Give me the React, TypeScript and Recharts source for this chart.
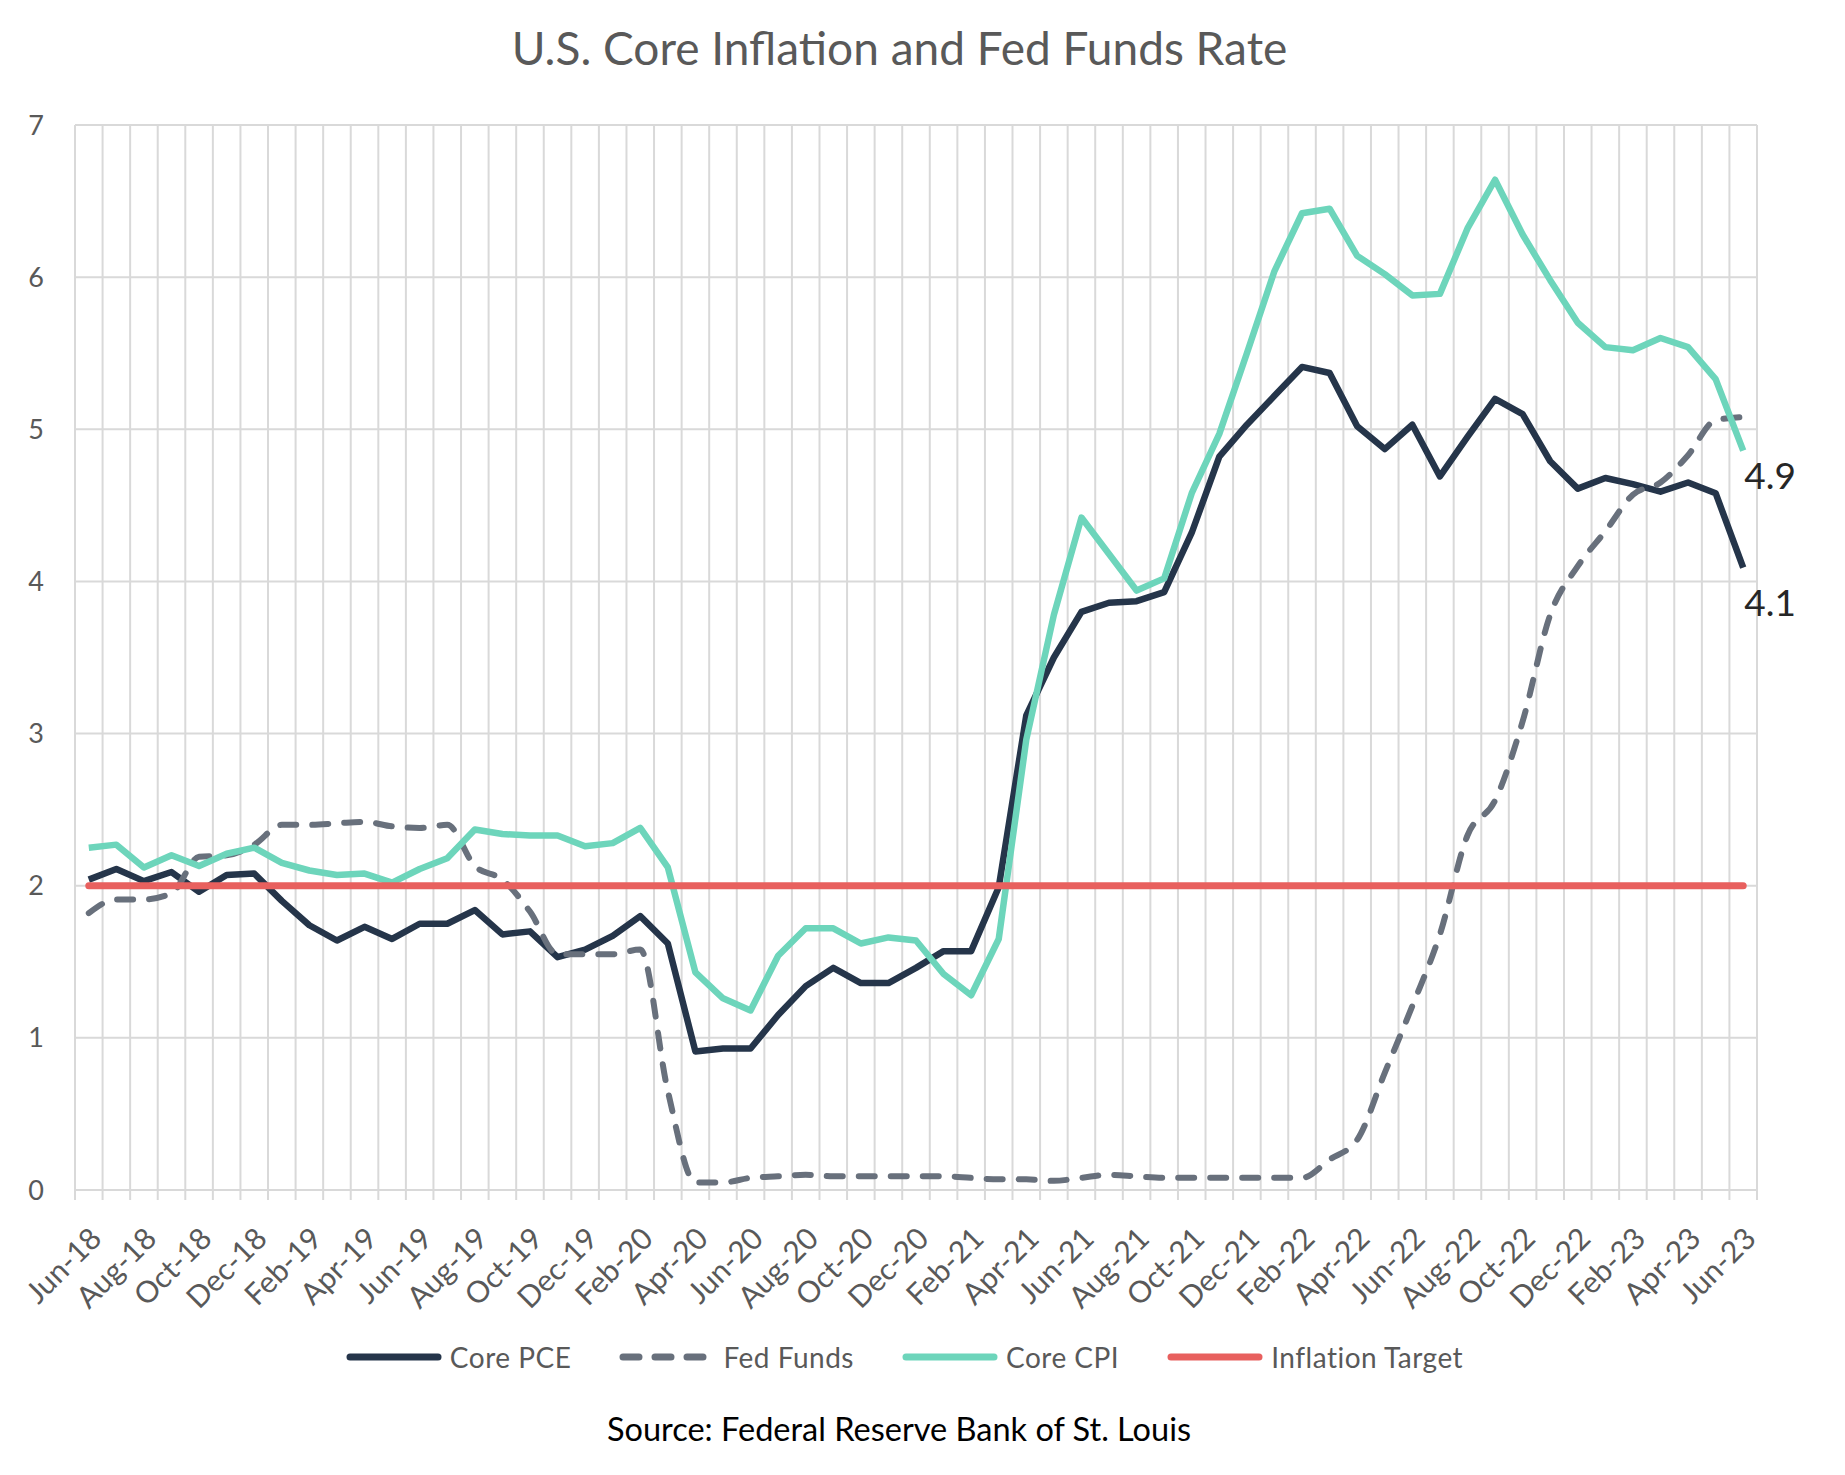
import React from 'react';
import { LineChart, Line, XAxis, YAxis, CartesianGrid, Legend, LabelList } from 'recharts';

const MONTHS = [
  'Jun-18', 'Jul-18', 'Aug-18', 'Sep-18', 'Oct-18', 'Nov-18', 'Dec-18',
  'Jan-19', 'Feb-19', 'Mar-19', 'Apr-19', 'May-19', 'Jun-19', 'Jul-19', 'Aug-19', 'Sep-19', 'Oct-19', 'Nov-19', 'Dec-19',
  'Jan-20', 'Feb-20', 'Mar-20', 'Apr-20', 'May-20', 'Jun-20', 'Jul-20', 'Aug-20', 'Sep-20', 'Oct-20', 'Nov-20', 'Dec-20',
  'Jan-21', 'Feb-21', 'Mar-21', 'Apr-21', 'May-21', 'Jun-21', 'Jul-21', 'Aug-21', 'Sep-21', 'Oct-21', 'Nov-21', 'Dec-21',
  'Jan-22', 'Feb-22', 'Mar-22', 'Apr-22', 'May-22', 'Jun-22', 'Jul-22', 'Aug-22', 'Sep-22', 'Oct-22', 'Nov-22', 'Dec-22',
  'Jan-23', 'Feb-23', 'Mar-23', 'Apr-23', 'May-23', 'Jun-23',
];

const CORE_PCE = [
  2.04, 2.11, 2.03, 2.09, 1.96, 2.07, 2.08,
  1.90, 1.74, 1.64, 1.73, 1.65, 1.75, 1.75, 1.84, 1.68, 1.70, 1.53, 1.58,
  1.67, 1.80, 1.62, 0.91, 0.93, 0.93, 1.15, 1.34, 1.46, 1.36, 1.36, 1.46,
  1.57, 1.57, 1.99, 3.12, 3.50, 3.80, 3.86, 3.87, 3.93, 4.32, 4.82, 5.03,
  5.22, 5.41, 5.37, 5.02, 4.87, 5.03, 4.69, 4.95, 5.20, 5.10, 4.79, 4.61,
  4.68, 4.64, 4.59, 4.65, 4.58, 4.09,
];

const FED_FUNDS = [
  1.82, 1.91, 1.91, 1.95, 2.19, 2.20, 2.27,
  2.40, 2.40, 2.41, 2.42, 2.39, 2.38, 2.40, 2.13, 2.04, 1.83, 1.55, 1.55,
  1.55, 1.58, 0.65, 0.05, 0.05, 0.08, 0.09, 0.10, 0.09, 0.09, 0.09, 0.09,
  0.09, 0.08, 0.07, 0.07, 0.06, 0.08, 0.10, 0.09, 0.08, 0.08, 0.08, 0.08,
  0.08, 0.08, 0.20, 0.33, 0.77, 1.21, 1.68, 2.33, 2.56, 3.08, 3.78, 4.10,
  4.33, 4.57, 4.65, 4.83, 5.06, 5.08,
];

const CORE_CPI = [
  2.25, 2.27, 2.12, 2.20, 2.13, 2.21, 2.25,
  2.15, 2.10, 2.07, 2.08, 2.02, 2.11, 2.18, 2.37, 2.34, 2.33, 2.33, 2.26,
  2.28, 2.38, 2.12, 1.43, 1.26, 1.18, 1.54, 1.72, 1.72, 1.62, 1.66, 1.64,
  1.42, 1.28, 1.65, 2.96, 3.78, 4.42, 4.18, 3.94, 4.02, 4.58, 4.97, 5.50,
  6.04, 6.42, 6.45, 6.14, 6.02, 5.88, 5.89, 6.32, 6.64, 6.28, 5.98, 5.70,
  5.54, 5.52, 5.60, 5.54, 5.33, 4.86,
];

const INFLATION_TARGET = 2;

const Y_TICKS = [0, 1, 2, 3, 4, 5, 6, 7];

const SERIES_ORDER = ['Core PCE', 'Fed Funds', 'Core CPI', 'Inflation Target'];

const COLORS = {
  pce: '#25354a',
  fed: '#68707c',
  cpi: '#6dd5bb',
  target: '#e8605e',
};

const FED_DASH = '16 16';

const data = MONTHS.map((month, i) => ({
  i,
  month,
  pce: CORE_PCE[i],
  fed: FED_FUNDS[i],
  cpi: CORE_CPI[i],
  target: INFLATION_TARGET,
}));

const LAST = MONTHS.length - 1;
// category boundaries (grid lines / tick marks) and label positions (every 2nd month)
const BOUNDS = MONTHS.map((_, i) => i - 0.5).concat([LAST + 0.5]);
const LABEL_POS = MONTHS.map((_, i) => i).filter((i) => i % 2 === 0);
const X_TICKS = [...BOUNDS, ...LABEL_POS].sort((a, b) => a - b);

const FONT = "Lato, 'Open Sans', 'DejaVu Sans', sans-serif";
const AXIS_COLOR = '#595959';

const XTick = (props: any) => {
  const { x, y, payload } = props;
  const v = payload.value as number;
  if (!Number.isInteger(v)) {
    return <line x1={x} x2={x} y1={y} y2={y + 10} stroke="#d9d9d9" strokeWidth={2} />;
  }
  const ax = x + 6;
  const ay = y + 42;
  return (
    <text
      x={ax}
      y={ay}
      transform={`rotate(-45 ${ax} ${ay})`}
      textAnchor="end"
      dominantBaseline="central"
      fill={AXIS_COLOR}
      fontSize={30}
      fontFamily={FONT}
    >
      {MONTHS[v]}
    </text>
  );
};

const endLabel = (dy: number) => (p: any) => {
  if (p.index !== LAST) return null;
  return (
    <text x={p.x + 1} y={p.y + dy} fontSize={37} fill="#262626" fontFamily={FONT} textAnchor="start">
      {Number(p.value).toFixed(1)}
    </text>
  );
};

const LegendContent = (props: any) => {
  const payload = (props.payload || []).slice().sort(
    (a: any, b: any) => SERIES_ORDER.indexOf(a.value) - SERIES_ORDER.indexOf(b.value)
  );
  return (
    <div style={{ display: 'flex', justifyContent: 'center', alignItems: 'center', gap: 48, height: 40 }}>
      {payload.map((entry: any) => {
        const dash = entry.payload && entry.payload.strokeDasharray;
        return (
          <div key={entry.value} style={{ display: 'flex', alignItems: 'center' }}>
            <svg width={96} height={12} style={{ display: 'block' }}>
              <line
                x1={4}
                x2={dash ? 86 : 92}
                y1={6}
                y2={6}
                stroke={entry.color}
                strokeWidth={7}
                strokeLinecap="round"
                strokeDasharray={dash}
              />
            </svg>
            <span
              style={{
                marginLeft: 8,
                fontSize: 28,
                color: AXIS_COLOR,
                fontFamily: FONT,
                lineHeight: '40px',
                whiteSpace: 'nowrap',
                letterSpacing: 0.5,
              }}
            >
              {entry.value}
            </span>
          </div>
        );
      })}
    </div>
  );
};

export default function App() {
  return (
    <div
      style={{
        position: 'absolute',
        left: 0,
        top: 0,
        width: 1845,
        height: 1475,
        background: '#ffffff',
        fontFamily: FONT,
        overflow: 'hidden',
      }}
    >
      <LineChart
        width={1845}
        height={1475}
        data={data}
        margin={{ top: 125, right: 88, left: 0, bottom: 185 }}
      >
        <CartesianGrid stroke="#d9d9d9" strokeWidth={2} verticalValues={BOUNDS} />
        <XAxis
          dataKey="i"
          type="number"
          domain={[-0.5, LAST + 0.5]}
          ticks={X_TICKS}
          interval={0}
          height={100}
          axisLine={false}
          tickLine={false}
          tickSize={0}
          tickMargin={0}
          tick={<XTick />}
        />
        <YAxis
          type="number"
          domain={[0, 7]}
          ticks={Y_TICKS}
          width={75}
          axisLine={false}
          tickLine={false}
          tickSize={0}
          tickMargin={31}
          tick={{ fill: AXIS_COLOR, fontSize: 27, fontFamily: FONT }}
        />
        <Legend
          verticalAlign="middle"
          align="center"
          layout="horizontal"
          wrapperStyle={{ top: 1337, left: 0, width: 1809 }}
          content={<LegendContent />}
        />
        <Line
          name="Core PCE"
          dataKey="pce"
          type="linear"
          stroke={COLORS.pce}
          strokeWidth={6.5}
          strokeLinejoin="round"
          dot={false}
          activeDot={false}
          isAnimationActive={false}
        >
          <LabelList dataKey="pce" content={endLabel(48)} />
        </Line>
        <Line
          name="Fed Funds"
          dataKey="fed"
          type="monotone"
          stroke={COLORS.fed}
          strokeWidth={6}
          strokeDasharray={FED_DASH}
          strokeLinecap="round"
          strokeLinejoin="round"
          dot={false}
          activeDot={false}
          isAnimationActive={false}
        />
        <Line
          name="Core CPI"
          dataKey="cpi"
          type="linear"
          stroke={COLORS.cpi}
          strokeWidth={6.5}
          strokeLinejoin="round"
          dot={false}
          activeDot={false}
          isAnimationActive={false}
        >
          <LabelList dataKey="cpi" content={endLabel(38)} />
        </Line>
        <Line
          name="Inflation Target"
          dataKey="target"
          type="linear"
          stroke={COLORS.target}
          strokeWidth={7}
          strokeLinecap="round"
          dot={false}
          activeDot={false}
          isAnimationActive={false}
        />
      </LineChart>
      <svg
        width={1845}
        height={1475}
        style={{ position: 'absolute', left: 0, top: 0, pointerEvents: 'none' }}
      >
        <text x={899.5} y={65} textAnchor="middle" fontSize={46} fill={AXIS_COLOR} fontFamily={FONT}>
          U.S. Core Inflation and Fed Funds Rate
        </text>
        <text x={899} y={1441} textAnchor="middle" fontSize={32.5} fill="#000000" fontFamily={FONT}>
          Source: Federal Reserve Bank of St. Louis
        </text>
      </svg>
    </div>
  );
}
